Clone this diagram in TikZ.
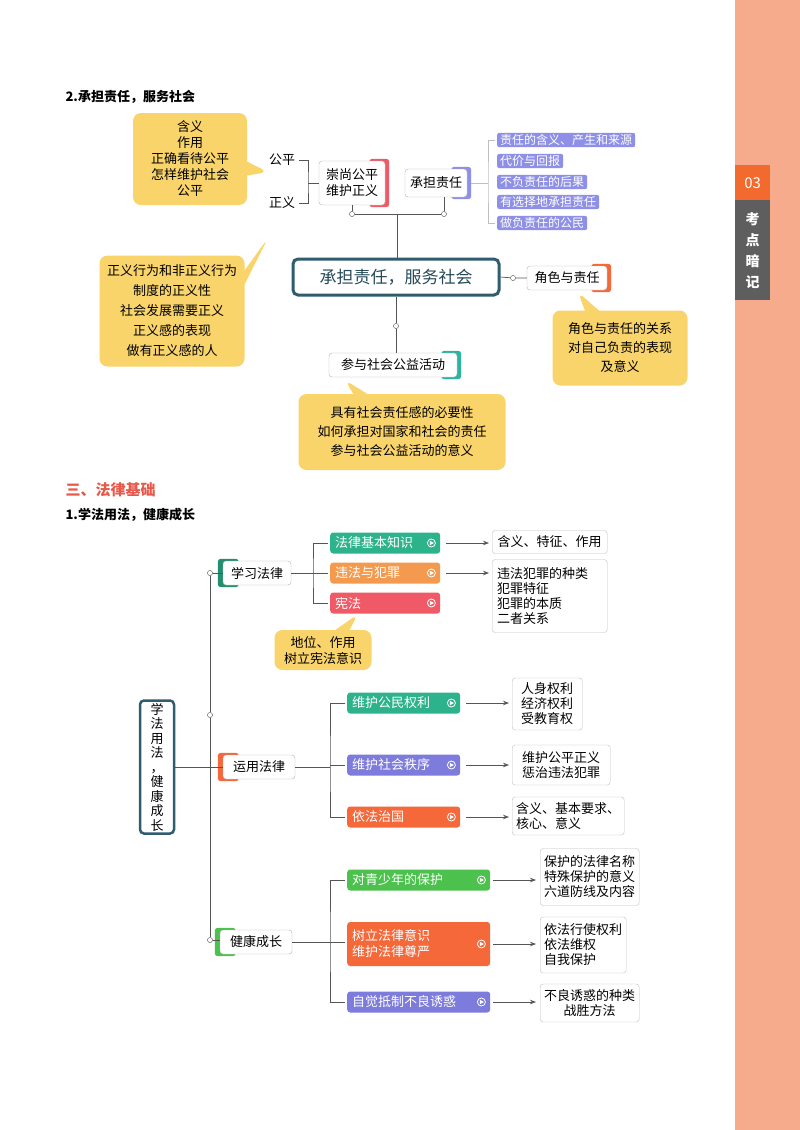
\documentclass[tikz,border=0pt]{standalone}
\usepackage{fontspec}
\setmainfont{Noto Sans CJK SC}
\usetikzlibrary{shapes.callouts,arrows.meta,calc}
\definecolor{salmon}{HTML}{F6AC8C}
\definecolor{tabor}{HTML}{F26A2E}
\definecolor{tabgr}{HTML}{5E5E5E}
\definecolor{yel}{HTML}{F9D46B}
\definecolor{mainb}{HTML}{2F5D6E}
\definecolor{purl}{HTML}{8E8FE6}
\definecolor{gteal}{HTML}{2DB38C}
\definecolor{orng}{HTML}{F39A4E}
\definecolor{redc}{HTML}{F05A66}
\definecolor{purp}{HTML}{7D7BDB}
\definecolor{ored}{HTML}{F4683A}
\definecolor{grn}{HTML}{4DC14E}
\definecolor{teal2}{HTML}{2BB5A0}
\definecolor{lin}{HTML}{555555}
\definecolor{titred}{HTML}{E8584A}
\pgfdeclarelayer{back}\pgfdeclarelayer{bg}\pgfsetlayers{back,bg,main}
\tikzset{
 wbox/.style={draw=gray!60,fill=white,rounded corners=3pt,inner sep=2pt,font=\fontsize{13}{16}\selectfont,align=center},
 cbox/.style 2 args={fill=#1,text=white,rounded corners=3pt,anchor=west,minimum height=21pt,inner xsep=5pt,text width=#2,font=\fontsize{13}{16}\selectfont,align=left},
 lbox/.style={fill=#1,text=white,rounded corners=2pt,anchor=west,inner xsep=3pt,inner ysep=1.5pt,font=\fontsize{12}{14}\selectfont},
 rbox/.style={draw=gray!50,fill=white,rounded corners=3pt,anchor=west,align=left,inner xsep=4pt,inner ysep=2pt,font=\fontsize{13}{15}\selectfont},
 yc/.style={rectangle callout,fill=yel,rounded corners=8pt,align=center,font=\fontsize{13}{19}\selectfont,callout pointer width=14pt},
 dotc/.style={circle,draw=lin,fill=white,inner sep=1.8pt},
 ln/.style={draw=lin,line width=0.7pt},
 arr/.style={draw=lin,line width=0.7pt,-{Stealth[length=6pt]}},
}
\newcommand\accR[2]{\begin{pgfonlayer}{bg}\fill[#2,rounded corners=3pt] ([xshift=-16pt,yshift=2pt]#1.north east) rectangle ([xshift=4pt,yshift=-2pt]#1.south east);\end{pgfonlayer}}
\newcommand\accL[2]{\begin{pgfonlayer}{bg}\fill[#2,rounded corners=3pt] ([xshift=-5pt,yshift=2pt]#1.north west) rectangle ([xshift=16pt,yshift=-2pt]#1.south west);\end{pgfonlayer}}
\newcommand\playi[1]{\draw[white,line width=0.8pt] ([xshift=-9pt]#1.east) circle (4pt);\fill[white] ([xshift=-10.5pt,yshift=2.2pt]#1.east) -- ([xshift=-10.5pt,yshift=-2.2pt]#1.east) -- ([xshift=-6.5pt]#1.east) -- cycle;}
\begin{document}
\begin{tikzpicture}[x=1pt,y=-1pt]
\useasboundingbox (0,0) rectangle (800,1130);
\begin{pgfonlayer}{back}
\fill[white] (0,0) rectangle (800,1130);
\fill[salmon] (735,0) rectangle (800,1130);
\end{pgfonlayer}
\node[fill=tabor,text=white,minimum width=35pt,minimum height=35pt,font=\fontsize{15}{16}\selectfont,anchor=north west,inner sep=0pt] (tab1) at (735,165) {03};
\node[fill=tabgr,text=white,minimum width=35pt,minimum height=100pt,font=\fontsize{14}{21}\selectfont\bfseries,anchor=north west,align=center,inner sep=0pt] (tab2) at (735,200) {考\\点\\暗\\记};

% ---- section 2
\node[anchor=west,font=\fontsize{13}{15}\selectfont\bfseries] (t1) at (62,97) {2.承担责任，服务社会};
\node[yc,minimum width=114pt,minimum height=92pt,callout absolute pointer={(268,172)},font=\fontsize{13}{16}\selectfont] (y1) at (190,159) {含义\\作用\\正确看待公平\\怎样维护社会\\公平};
\node[font=\fontsize{13}{15}\selectfont] (gp) at (282,160) {公平};
\node[font=\fontsize{13}{15}\selectfont] (zy) at (282,203) {正义};
\node[wbox,minimum width=66pt,minimum height=44pt] (cs) at (352,183) {崇尚公平\\维护正义};
\accR{cs}{redc}
\node[wbox,minimum width=62pt,minimum height=28pt] (cd) at (436,183) {承担责任};
\accR{cd}{purl}
\coordinate (br0) at (308,183);
\draw[ln] (gp.east) -| (br0) |- (zy.east);
\draw[ln] (br0) -- (cs.west);
\node[lbox=purl] (p1) at (497,140) {责任的含义、产生和来源};
\node[lbox=purl] (p2) at (497,161) {代价与回报};
\node[lbox=purl] (p3) at (497,182) {不负责任的后果};
\node[lbox=purl] (p4) at (497,202) {有选择地承担责任};
\node[lbox=purl] (p5) at (497,223) {做负责任的公民};
\coordinate (br1) at (488,183);
\draw[draw=gray!50,line width=0.7pt] ([xshift=-2pt]p1.west) -| (br1) |- ([xshift=-2pt]p5.west);
\draw[draw=gray!50,line width=0.7pt] ([xshift=4pt]cd.east) -- (br1);
\node[dotc] (c1) at (352,214) {};
\node[dotc] (c2) at (444,214) {};
\coordinate (j1) at (397,214);
\draw[ln] (cs.south) -- (c1);
\draw[ln] (cd.south -| c2) -- (c2);
\draw[ln] (c1) -- (c2);
\node[draw=mainb,line width=3pt,fill=white,rounded corners=5pt,minimum width=206pt,minimum height=36pt,font=\fontsize{17}{19}\selectfont,text=mainb!80!black] (mn) at (396,277) {承担责任，服务社会};
\draw[ln] (j1) -- (mn.north -| j1);
\node[yc,minimum width=145pt,minimum height=111pt,callout absolute pointer={(268,238)},font=\fontsize{13}{20}\selectfont] (y2) at (172,311) {正义行为和非正义行为\\制度的正义性\\社会发展需要正义\\正义感的表现\\做有正义感的人};
\node[dotc] (c3) at (513,278) {};
\node[wbox,minimum width=80pt,minimum height=24pt] (js) at (567,278) {角色与责任};
\accR{js}{ored}
\draw[ln] (mn.east) -- (c3) -- (js.west);
\node[yc,minimum width=135pt,minimum height=75pt,callout absolute pointer={(578,292)}] (y3) at (620,348) {角色与责任的关系\\对自己负责的表现\\及意义};
\node[dotc] (c4) at (396,326) {};
\node[wbox,minimum width=128pt,minimum height=24pt] (cy) at (393,365) {参与社会公益活动};
\accR{cy}{teal2}
\draw[ln] (mn.south) -- (c4) -- (c4 |- cy.north);
\node[yc,minimum width=207pt,minimum height=76pt,callout absolute pointer={(345,380)}] (y4) at (402,432) {具有社会责任感的必要性\\如何承担对国家和社会的责任\\参与社会公益活动的意义};

% ---- section 3
\node[anchor=west,font=\fontsize{15}{17}\selectfont\bfseries,text=titred] (t2) at (62,490) {三、法律基础};
\node[anchor=west,font=\fontsize{13}{15}\selectfont\bfseries] (t3) at (62,515) {1.学法用法，健康成长};
\node[draw=mainb,line width=2.5pt,fill=white,rounded corners=4pt,minimum width=34pt,minimum height=133pt,align=center,font=\fontsize{13}{14.5}\selectfont,inner sep=1pt] (m2) at (157,767) {学\\法\\用\\法\\，\\健\\康\\成\\长};
\node[dotc] (d1) at (210,573) {};
\node[dotc] (d2) at (210,715) {};
\node[dotc] (d3) at (210,940) {};
\draw[ln] (d1) -- (d2) -- (d3);
\node[wbox,minimum width=68pt,minimum height=24pt] (xx) at (257,573) {学习法律};
\accL{xx}{gteal!80!black}
\node[wbox,minimum width=72pt,minimum height=24pt] (yy) at (259,767) {运用法律};
\accL{yy}{ored}
\node[wbox,minimum width=72pt,minimum height=24pt] (jk) at (256,942) {健康成长};
\accL{jk}{grn}
\draw[ln] (d1) -- (xx.west);
\draw[ln] (m2.east) -- (yy.west);
\draw[ln] (d3) -- (d3 -| jk.west);
% learning
\node[cbox={gteal}{100pt}] (b1) at (330,543) {法律基本知识};
\node[cbox={orng}{100pt}] (b2) at (330,573) {违法与犯罪};
\node[cbox={redc}{100pt}] (b3) at (330,603) {宪法};
\playi{b1}\playi{b2}\playi{b3}
\coordinate (k1) at (313,573);
\draw[ln] (xx.east) -- (k1);
\draw[ln] ([xshift=-2pt]b1.west) -| (k1) |- ([xshift=-2pt]b3.west);
\draw[ln] (k1) -- ([xshift=-2pt]b2.west);
\node[rbox,minimum width=115pt,minimum height=23pt] (r1) at (492,542) {含义、特征、作用};
\node[rbox,minimum width=115pt,minimum height=73pt,text width=105pt] (r2) at (492,596) {违法犯罪的种类\\犯罪特征\\犯罪的本质\\二者关系};
\draw[arr] ([xshift=6pt]b1.east) -- ($(r1.west |- b1.east)+(-3,0)$);
\draw[arr] ([xshift=6pt]b2.east) -- ($(r2.west |- b2.east)+(-3,0)$);
\node[yc,minimum width=97pt,minimum height=40pt,font=\fontsize{13}{16}\selectfont,callout absolute pointer={(358,614)}] (y5) at (323,650) {地位、作用\\树立宪法意识};
% applying
\node[cbox={gteal}{103pt}] (g1) at (347,703) {维护公民权利};
\node[cbox={purp}{103pt}] (g2) at (347,765) {维护社会秩序};
\node[cbox={ored}{103pt}] (g3) at (347,817) {依法治国};
\playi{g1}\playi{g2}\playi{g3}
\coordinate (k2) at (330,767);
\draw[ln] (yy.east) -- (k2);
\draw[ln] ([xshift=-2pt]g1.west) -| (k2) |- ([xshift=-2pt]g3.west);
\draw[ln] (g2.west -| k2) -- ([xshift=-2pt]g2.west);
\node[rbox,minimum width=70pt,minimum height=52pt] (s1) at (512,704) {人身权利\\经济权利\\受教育权};
\node[rbox,minimum width=98pt,minimum height=40pt] (s2) at (512,765) {维护公平正义\\惩治违法犯罪};
\node[rbox,minimum width=112pt,minimum height=38pt] (s3) at (512,816) {含义、基本要求、\\核心、意义};
\draw[arr] ([xshift=6pt]g1.east) -- ($(s1.west |- g1.east)+(-3,0)$);
\draw[arr] ([xshift=6pt]g2.east) -- ($(s2.west |- g2.east)+(-3,0)$);
\draw[arr] ([xshift=6pt]g3.east) -- ($(s3.west |- g3.east)+(-3,0)$);
% growing
\node[cbox={grn}{133pt}] (h1) at (347,880) {对青少年的保护};
\node[cbox={ored}{133pt},minimum height=44pt] (h2) at (347,944) {树立法律意识\\维护法律尊严};
\node[cbox={purp}{133pt}] (h3) at (347,1002) {自觉抵制不良诱惑};
\playi{h1}\playi{h2}\playi{h3}
\coordinate (k3) at (330,942);
\draw[ln] (jk.east) -- (k3);
\draw[ln] ([xshift=-2pt]h1.west) -| (k3) |- ([xshift=-2pt]h3.west);
\draw[ln] (k3) -- ([xshift=-2pt]h2.west |- k3);
\node[rbox,minimum width=92pt,minimum height=57pt] (u1) at (540,877) {保护的法律名称\\特殊保护的意义\\六道防线及内容};
\node[rbox,minimum width=85pt,minimum height=56pt] (u2) at (540,945) {依法行使权利\\依法维权\\自我保护};
\node[rbox,minimum width=92pt,minimum height=38pt,align=center] (u3) at (540,1003) {不良诱惑的种类\\战胜方法};
\draw[arr] ([xshift=3pt]h1.east) -- ($(u1.west |- h1.east)+(-4,0)$);
\draw[arr] ([xshift=3pt]h2.east) -- ($(u2.west |- h2.east)+(-4,0)$);
\draw[arr] ([xshift=3pt]h3.east) -- ($(u3.west |- h3.east)+(-4,0)$);
\end{tikzpicture}
\end{document}
